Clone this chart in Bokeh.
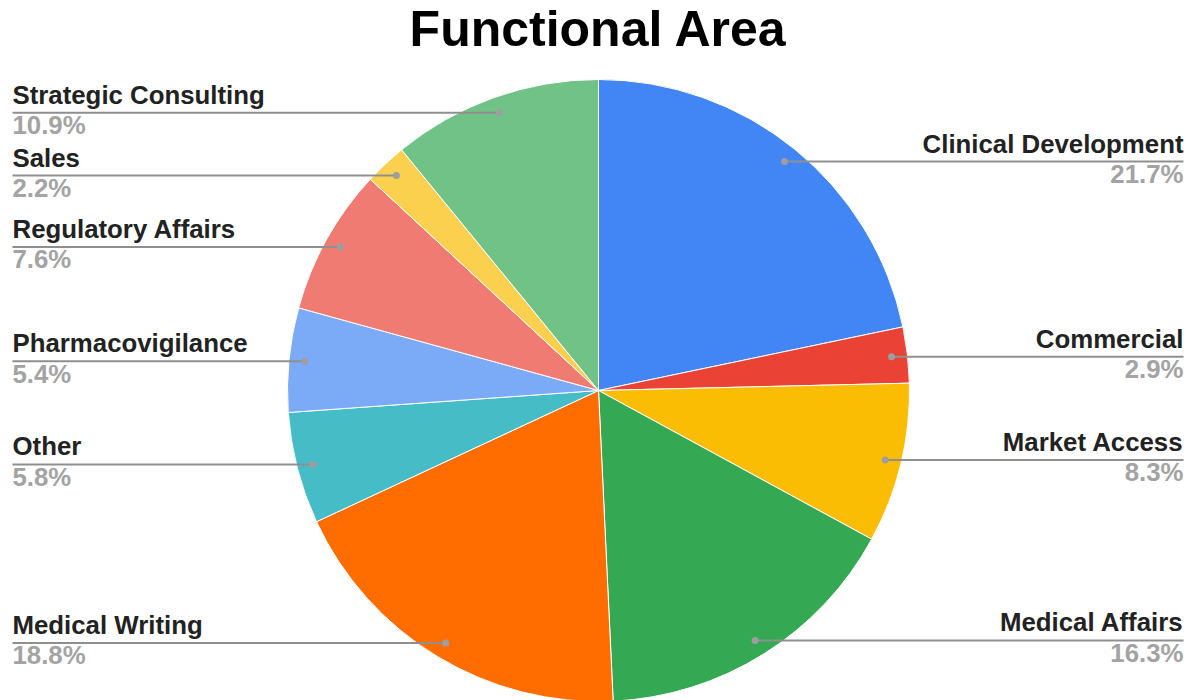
import math
from bokeh.plotting import figure
from bokeh.models import Range1d, ColumnDataSource
from bokeh.core.properties import value
from bokeh.embed import file_html
from bokeh.resources import INLINE

# ---- data ----
title_text = "Functional Area"
categories = ["Clinical Development", "Commercial", "Market Access", "Medical Affairs",
              "Medical Writing", "Other", "Pharmacovigilance", "Regulatory Affairs",
              "Sales", "Strategic Consulting"]
values = [21.7, 2.9, 8.3, 16.3, 18.8, 5.8, 5.4, 7.6, 2.2, 10.9]
colors = ["#4285F4", "#EA4335", "#FBBC04", "#34A853", "#FF6D01",
          "#46BDC6", "#7BAAF7", "#F07B72", "#FCD04F", "#71C287"]

# ---- layout ----
W, H = 1194, 700
CX, CY, R = 598, H - 390, 311
DOT_R = 295
LEFT_X, RIGHT_X = 12, 1183
FONT = "Liberation Sans"
LABEL_PX = 25.8
TITLE_PX = 50

total = sum(values)
starts, ends, mids = [], [], []
cum = 0.0
for v in values:
    f0 = cum / total
    cum += v
    f1 = cum / total
    starts.append(math.pi / 2 - 2 * math.pi * f1)
    ends.append(math.pi / 2 - 2 * math.pi * f0)
    mids.append(2 * math.pi * (f0 + f1) / 2)

wedge_src = ColumnDataSource(dict(start=starts, end=ends, color=colors, cat=categories))

p = figure(width=W, height=H, output_backend="svg", toolbar_location=None,
           x_range=Range1d(0, W), y_range=Range1d(0, H), min_border=0,
           outline_line_color=None, background_fill_color="white",
           border_fill_color="white")
p.axis.visible = False
p.grid.visible = False

p.wedge(x=CX, y=CY, radius=R, start_angle="start", end_angle="end",
        fill_color="color", line_color="white", line_width=1, source=wedge_src)

lab_off = 0.37 * LABEL_PX
for cat, v, m in zip(categories, values, mids):
    px = CX + DOT_R * math.sin(m)
    py = CY + DOT_R * math.cos(m)
    right = math.sin(m) > 0
    end_x = RIGHT_X if right else LEFT_X
    p.line([px, end_x], [py, py], line_color="#8f8f8f", line_width=2)
    p.scatter([px], [py], size=7, fill_color="#9e9e9e", line_color=None)
    align = "right" if right else "left"
    p.text([end_x], [py + 8.5 + lab_off], text=[cat], text_align=align,
           text_baseline="alphabetic", text_font=value(FONT), text_font_style="bold",
           text_font_size=f"{LABEL_PX}px", text_color="#222222")
    p.text([end_x], [py - 22 + lab_off], text=[f"{v:.1f}%"], text_align=align,
           text_baseline="alphabetic", text_font=value(FONT), text_font_style="bold",
           text_font_size=f"{LABEL_PX}px", text_color="#a3a3a3")

p.text([W / 2 + 1], [H - 47 + 0.38 * TITLE_PX], text=[title_text], text_align="center",
       text_baseline="alphabetic", text_font=value(FONT), text_font_style="bold",
       text_font_size=f"{TITLE_PX}px", text_color="#000000")

open("out.html", "w").write(file_html(p, INLINE))
